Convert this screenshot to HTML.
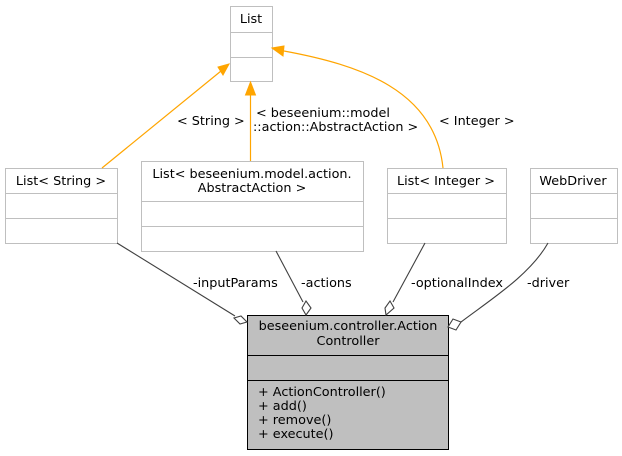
<!DOCTYPE html>
<html><head><meta charset="utf-8"><style>
html,body{margin:0;padding:0;background:#fff;}
svg{display:block;font-family:"DejaVu Sans","Liberation Sans",sans-serif;font-size:12.8px;}
</style></head><body>
<svg width="622" height="456" viewBox="0 0 622 456">
<g fill="#fff" stroke="#bfbfbf" stroke-width="1">
<rect x="230.5" y="6.5" width="42" height="75"/>
<line x1="230.5" y1="32.5" x2="272.5" y2="32.5"/><line x1="230.5" y1="57.5" x2="272.5" y2="57.5"/>
<rect x="5.5" y="168.5" width="112" height="75"/>
<line x1="5.5" y1="193.5" x2="117.5" y2="193.5"/><line x1="5.5" y1="218.5" x2="117.5" y2="218.5"/>
<rect x="141.5" y="161.5" width="222" height="90"/>
<line x1="141.5" y1="201.5" x2="363.5" y2="201.5"/><line x1="141.5" y1="226.5" x2="363.5" y2="226.5"/>
<rect x="387.5" y="168.5" width="119" height="75"/>
<line x1="387.5" y1="193.5" x2="506.5" y2="193.5"/><line x1="387.5" y1="218.5" x2="506.5" y2="218.5"/>
<rect x="530.5" y="168.5" width="87" height="75"/>
<line x1="530.5" y1="193.5" x2="617.5" y2="193.5"/><line x1="530.5" y1="218.5" x2="617.5" y2="218.5"/>
</g>
<g fill="#bfbfbf" stroke="#000">
<rect x="247.5" y="315.5" width="201" height="134"/>
<line x1="247.5" y1="355.5" x2="448.5" y2="355.5"/><line x1="247.5" y1="380.5" x2="448.5" y2="380.5"/>
</g>
<g stroke="orange" fill="none" stroke-width="1.2">
<line x1="102" y1="168" x2="221" y2="71"/>
<line x1="250.5" y1="161" x2="250.5" y2="94"/>
<path d="M443,168 C435,90 360,65 284,51"/>
</g>
<g fill="orange" stroke="orange">
<polygon points="229,64 218,67 223,75"/>
<polygon points="250.5,82 245.5,95 255.5,95"/>
<polygon points="272,48 284,46 283,56"/>
</g>
<g stroke="#404040" fill="none" stroke-width="1.1">
<line x1="117" y1="243" x2="235" y2="316"/>
<line x1="276" y1="251" x2="303" y2="302"/>
<line x1="425" y1="243" x2="393" y2="302"/>
<path d="M548,243 C530,275 490,300 461,322"/>
</g>
<g stroke="#404040" fill="#fff" stroke-width="1.1">
<polygon points="247,322 241,316 234,318 240,324"/>
<polygon points="306,315 311,308 306,301 302,308"/>
<polygon points="386,315 385,308 390,301 394,308"/>
<polygon points="448,327 456,330 461,322 453,319"/>
</g>
<g fill="#000" text-anchor="middle">
<text x="251" y="23">List</text>
<text x="61" y="185">List&lt; String &gt;</text>
<text x="252" y="178">List&lt; beseenium.model.action.</text>
<text x="252" y="192">AbstractAction &gt;</text>
<text x="446" y="185">List&lt; Integer &gt;</text>
<text x="573" y="185">WebDriver</text>
<text x="348" y="330">beseenium.controller.Action</text>
<text x="348" y="345">Controller</text>
</g>
<g fill="#000">
<text x="258" y="396">+ ActionController()</text>
<text x="258" y="410">+ add()</text>
<text x="258" y="424">+ remove()</text>
<text x="258" y="438">+ execute()</text>
<text x="177" y="125">&lt; String &gt;</text>
<text x="256" y="117">&lt; beseenium::model</text>
<text x="253" y="131">::action::AbstractAction &gt;</text>
<text x="439" y="125">&lt; Integer &gt;</text>
<text x="193" y="287">-inputParams</text>
<text x="301" y="287">-actions</text>
<text x="411" y="287">-optionalIndex</text>
<text x="527" y="287">-driver</text>
</g>
</svg>
</body></html>
